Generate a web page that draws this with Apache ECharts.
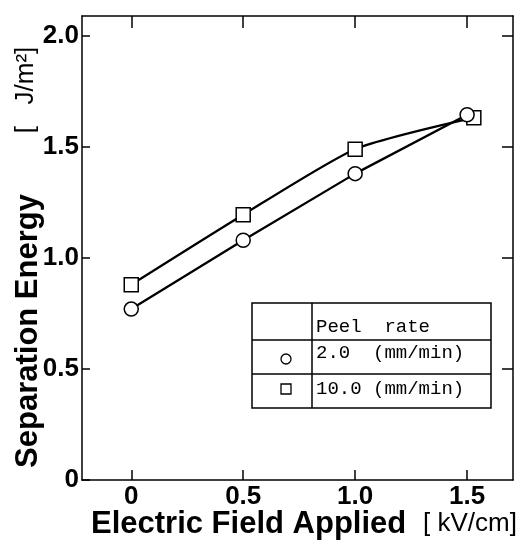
<!DOCTYPE html>
<html>
<head>
<meta charset="utf-8">
<script src="https://cdn.jsdelivr.net/npm/echarts@6/dist/echarts.min.js"></script>
<style>html,body{margin:0;padding:0;background:#fff}#c{width:532px;height:540px}</style>
</head>
<body>
<div id="c"></div>
<script>
// ---- data ----
const fieldLow = [0, 0.5, 1.0, 1.5];
const energyLow = [0.77, 1.08, 1.38, 1.645];       // Peel rate 2.0 mm/min (circles)
const fieldHigh = [0, 0.5, 1.0, 1.53];
const energyHigh = [0.88, 1.195, 1.49, 1.632];     // Peel rate 10.0 mm/min (squares)
const xTicks = [0, 0.5, 1.0, 1.5];
const yTicks = [0, 0.5, 1.0, 1.5, 2.0];
const legendHeader = 'Peel  rate';
const legendRows = ['2.0  (mm/min)', '10.0 (mm/min)'];
const xTitle = 'Electric Field Applied';
const xUnit = '[ kV/cm]';
const yTitle = 'Separation Energy';
const yUnit = '[   J/m\u00B2]';

const fmt = v => (v === 0 ? '0' : v.toFixed(1));
const F = '"Liberation Sans", Arial, Helvetica, sans-serif';
const M = '"Liberation Mono", "Courier New", monospace';

const chart = echarts.init(document.getElementById('c'), null, {renderer: 'canvas'});
const lineStyleAxis = {color: '#000', width: 1.5};

chart.setOption({
  backgroundColor: '#fff',
  animation: false,
  grid: {left: 82, right: 19, top: 16, bottom: 60},
  xAxis: [
    {type: 'value', position: 'bottom', min: -0.22, max: 1.705,
     axisLine: {show: true, onZero: false, lineStyle: lineStyleAxis},
     axisTick: {show: true, inside: true, length: 10, customValues: xTicks, lineStyle: lineStyleAxis},
     axisLabel: {customValues: xTicks, formatter: fmt, margin: 4, color: '#000',
                 fontFamily: F, fontWeight: 'bold', fontSize: 26},
     splitLine: {show: false}},
    {type: 'value', position: 'top', min: -0.22, max: 1.705,
     axisLine: {show: true, onZero: false, lineStyle: lineStyleAxis},
     axisTick: {show: true, inside: true, length: 12, customValues: xTicks, lineStyle: lineStyleAxis},
     axisLabel: {show: false}, splitLine: {show: false}}
  ],
  yAxis: [
    {type: 'value', position: 'left', min: 0, max: 2.09,
     axisLine: {show: true, onZero: false, lineStyle: lineStyleAxis},
     axisTick: {show: true, inside: true, length: 8, customValues: yTicks, lineStyle: lineStyleAxis},
     axisLabel: {customValues: yTicks, formatter: fmt, margin: 3, color: '#000',
                 fontFamily: F, fontWeight: 'bold', fontSize: 26},
     splitLine: {show: false}},
    {type: 'value', position: 'right', min: 0, max: 2.09,
     axisLine: {show: true, onZero: false, lineStyle: lineStyleAxis},
     axisTick: {show: true, inside: true, length: 11, customValues: yTicks.slice(1), lineStyle: lineStyleAxis},
     axisLabel: {show: false}, splitLine: {show: false}}
  ],
  series: [
    {type: 'line', name: '2.0 (mm/min)', xAxisIndex: 0, yAxisIndex: 0,
     data: fieldLow.map((x, i) => [x, energyLow[i]]),
     symbol: 'circle', symbolSize: 14,
     lineStyle: {color: '#000', width: 2.3},
     itemStyle: {color: '#fff', borderColor: '#000', borderWidth: 1.5}, z: 3},
    {type: 'line', name: '10.0 (mm/min)', xAxisIndex: 0, yAxisIndex: 0,
     data: fieldHigh.map((x, i) => [x, energyHigh[i]]),
     symbol: 'rect', symbolSize: 14, smooth: 0.2,
     lineStyle: {color: '#000', width: 2.3},
     itemStyle: {color: '#fff', borderColor: '#000', borderWidth: 1.5}, z: 2}
  ],
  graphic: [
    // axis titles
    {type: 'text', x: 91, y: 524, style: {text: xTitle, font: 'bold 31px ' + F, fill: '#000',
      textAlign: 'left', textVerticalAlign: 'middle'}},
    {type: 'text', x: 423, y: 524, style: {text: xUnit, font: '26px ' + F, fill: '#000',
      textAlign: 'left', textVerticalAlign: 'middle'}},
    {type: 'text', x: 28, y: 331, rotation: Math.PI / 2, style: {text: yTitle, font: 'bold 31px ' + F,
      fill: '#000', textAlign: 'center', textVerticalAlign: 'middle'}},
    {type: 'text', x: 26, y: 90, rotation: Math.PI / 2, style: {text: yUnit, font: '26px ' + F,
      fill: '#000', textAlign: 'center', textVerticalAlign: 'middle'}},
    // legend table
    {type: 'rect', shape: {x: 252, y: 303, width: 239, height: 105},
     style: {fill: '#fff', stroke: '#000', lineWidth: 1.5}, z: 10},
    {type: 'line', shape: {x1: 312, y1: 303, x2: 312, y2: 408}, style: {stroke: '#000', lineWidth: 1.5}, z: 11},
    {type: 'line', shape: {x1: 252, y1: 340, x2: 491, y2: 340}, style: {stroke: '#000', lineWidth: 1.5}, z: 11},
    {type: 'line', shape: {x1: 252, y1: 374, x2: 491, y2: 374}, style: {stroke: '#000', lineWidth: 1.5}, z: 11},
    {type: 'text', x: 316, y: 327, style: {text: legendHeader, font: '19px ' + M, fill: '#000',
      textAlign: 'left', textVerticalAlign: 'middle'}, z: 12},
    {type: 'text', x: 316, y: 353, style: {text: legendRows[0], font: '19px ' + M, fill: '#000',
      textAlign: 'left', textVerticalAlign: 'middle'}, z: 12},
    {type: 'text', x: 316, y: 389, style: {text: legendRows[1], font: '19px ' + M, fill: '#000',
      textAlign: 'left', textVerticalAlign: 'middle'}, z: 12},
    {type: 'circle', shape: {cx: 286, cy: 359, r: 5}, style: {fill: '#fff', stroke: '#000', lineWidth: 1.3}, z: 12},
    {type: 'rect', shape: {x: 281, y: 384, width: 10, height: 10}, style: {fill: '#fff', stroke: '#000', lineWidth: 1.3}, z: 12}
  ]
});
</script>
</body>
</html>
